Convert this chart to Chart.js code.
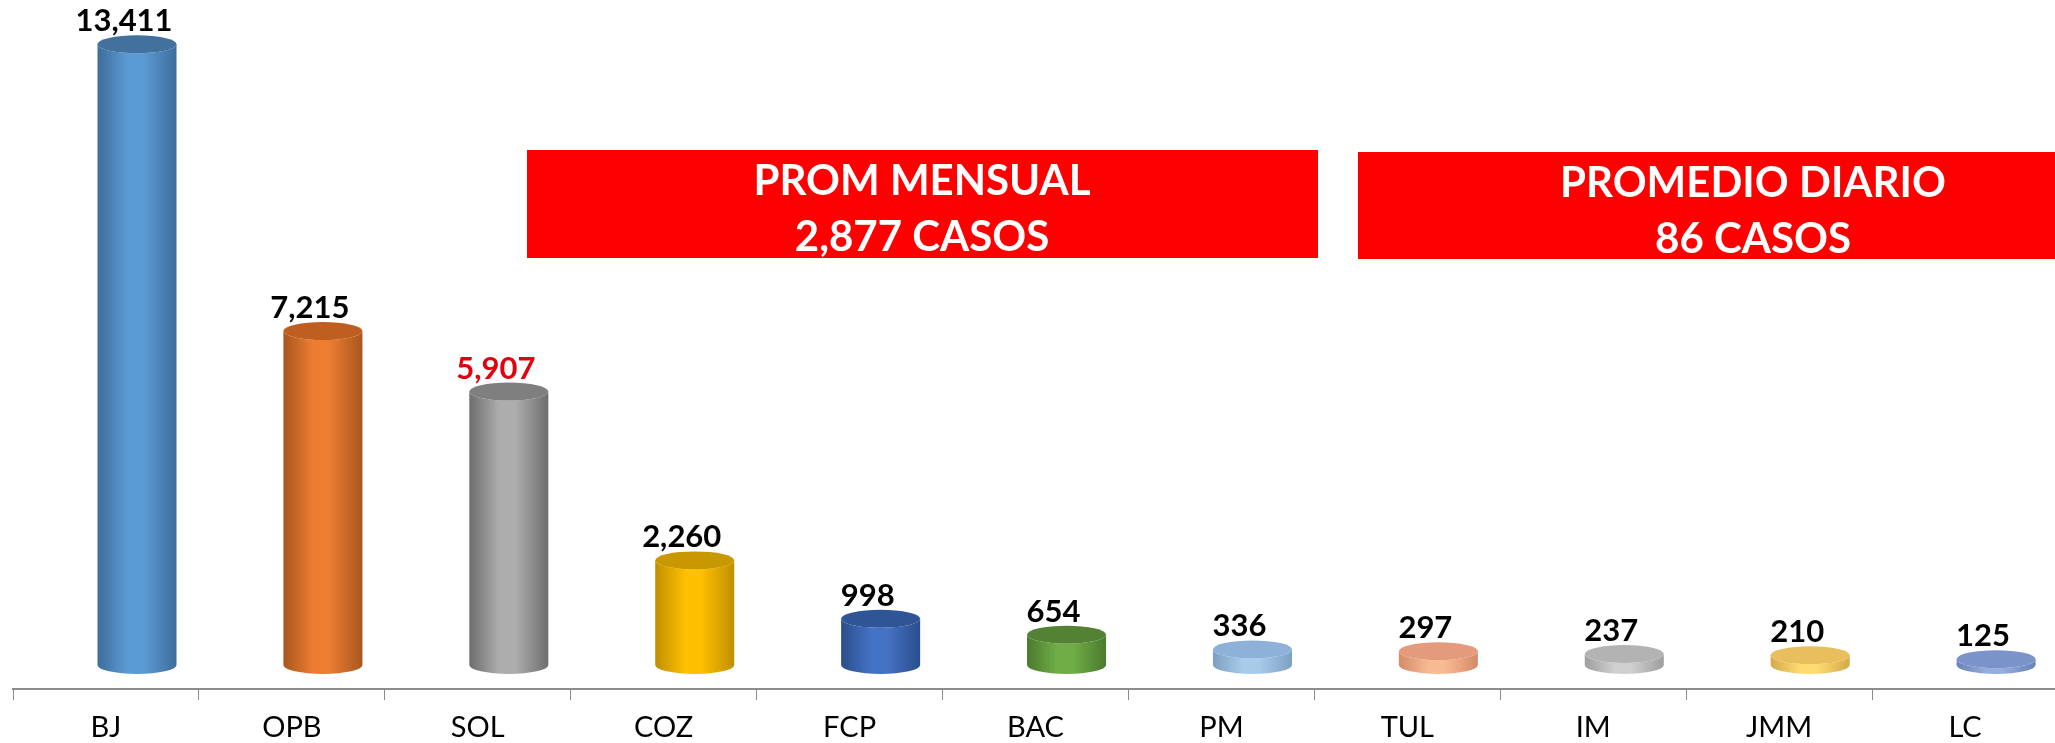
<!DOCTYPE html>
<html>
<head>
<meta charset="utf-8">
<script src="https://cdn.jsdelivr.net/npm/chart.js@4.4.1/dist/chart.umd.min.js"></script>
<style>
    html, body { margin: 0; padding: 0; background: #fff; overflow: hidden; }
    #wrap { width: 2060px; height: 743px; }
</style>
</head>
<body>
<div id="wrap"><canvas id="casosChart" width="2060" height="743"></canvas></div>
<script>
const categories = ['BJ', 'OPB', 'SOL', 'COZ', 'FCP', 'BAC', 'PM', 'TUL', 'IM', 'JMM', 'LC'];
const casos = [13411, 7215, 5907, 2260, 998, 654, 336, 297, 237, 210, 125];
const highlightIndex = 2;
const notes = [
    { lines: ['PROM MENSUAL', '2,877 CASOS'] },
    { lines: ['PROMEDIO DIARIO', '86 CASOS'] }
];

// side light / side edge / top face
const barColors = [
    { light: '#5B9BD5', edge: '#3E6D9C', top: '#41719C' },
    { light: '#ED7D31', edge: '#A9561F', top: '#BF5F1F' },
    { light: '#ADADAD', edge: '#6E6E6E', top: '#7F7F7F' },
    { light: '#FFC000', edge: '#BF8F00', top: '#C99700' },
    { light: '#4472C4', edge: '#2B4E8C', top: '#2F5597' },
    { light: '#70AD47', edge: '#4B7A2E', top: '#548235' },
    { light: '#A9CBEA', edge: '#7C9FC4', top: '#8DB1D8' },
    { light: '#F8BA92', edge: '#D48B67', top: '#E49B7C' },
    { light: '#D0D0D0', edge: '#9E9E9E', top: '#B3B3B3' },
    { light: '#FFDB70', edge: '#D4AA4A', top: '#E8BF5C' },
    { light: '#94AEDF', edge: '#6A83B8', top: '#7A93C8' }
];

const FONT = 'Lato, "Open Sans", sans-serif';
const DEPTH_X = 0.167;   // fraction of category width the 3D floor pushes the bars right
const DEPTH_Y = 24;      // floor lift in px
const RY = 9;

const formatInt = (v) => new Intl.NumberFormat('en-US').format(v);

const drawCylinder = (ctx, cx, yTop, yBase, rx, c) => {
    const grad = ctx.createLinearGradient(cx - rx, 0, cx + rx, 0);
    grad.addColorStop(0, c.edge);
    grad.addColorStop(0.38, c.light);
    grad.addColorStop(0.58, c.light);
    grad.addColorStop(1, c.edge);

    ctx.beginPath();
    ctx.moveTo(cx - rx, yTop);
    ctx.lineTo(cx - rx, yBase);
    ctx.ellipse(cx, yBase, rx, RY, 0, Math.PI, 0, true);
    ctx.lineTo(cx + rx, yTop);
    ctx.ellipse(cx, yTop, rx, RY, 0, 0, Math.PI, false);
    ctx.closePath();
    ctx.fillStyle = grad;
    ctx.fill();

    ctx.beginPath();
    ctx.ellipse(cx, yTop, rx, RY, 0, 0, Math.PI * 2);
    ctx.fillStyle = c.top;
    ctx.fill();
};

const cylinderPlugin = {
    id: 'cylinders',
    afterDatasetsDraw(chart) {
        const { ctx, scales: { x } } = chart;
        const meta = chart.getDatasetMeta(0);
        const catWidth = x.width / categories.length;
        ctx.save();
        meta.data.forEach((bar, i) => {
            const { x: bx, y: by, base, width } = bar.getProps(['x', 'y', 'base', 'width'], true);
            const cx = bx + catWidth * DEPTH_X;
            const yTop = by - DEPTH_Y;
            const yBase = base - DEPTH_Y;
            drawCylinder(ctx, cx, yTop, yBase, width / 2, barColors[i]);

            ctx.font = `bold 31px ${FONT}`;
            ctx.textAlign = 'center';
            ctx.textBaseline = 'alphabetic';
            ctx.fillStyle = i === highlightIndex ? '#E3000F' : '#000';
            ctx.fillText(formatInt(casos[i]), cx - 13, yTop - RY - 4);
        });
        ctx.restore();
    }
};

const notesPlugin = {
    id: 'notes',
    afterDraw(chart) {
        const { ctx } = chart;
        const boxes = [
            { left: 527, right: 1318, top: 150, bottom: 258, textX: 922 },
            { left: 1358, right: 2060, top: 152, bottom: 259, textX: 1753 }
        ];
        ctx.save();
        boxes.forEach((b, i) => {
            ctx.fillStyle = '#FF0000';
            ctx.fillRect(b.left, b.top, b.right - b.left, b.bottom - b.top);
            ctx.fillStyle = '#fff';
            ctx.font = `bold 42px ${FONT}`;
            ctx.textAlign = 'center';
            ctx.textBaseline = 'alphabetic';
            ctx.fillText(notes[i].lines[0], b.textX, b.top + 45);
            ctx.fillText(notes[i].lines[1], b.textX, b.top + 101);
        });
        ctx.restore();
    }
};

new Chart(document.getElementById('casosChart'), {
    type: 'bar',
    data: {
        labels: categories,
        datasets: [{
            label: 'Casos',
            data: casos,
            backgroundColor: 'rgba(0,0,0,0)',
            borderWidth: 0,
            categoryPercentage: 1,
            barPercentage: 0.425
        }]
    },
    options: {
        responsive: false,
        animation: false,
        layout: { padding: { left: 13, right: 2, top: 4, bottom: -12 } },
        plugins: {
            legend: { display: false },
            tooltip: { enabled: false }
        },
        scales: {
            x: {
                grid: {
                    offset: true,
                    drawOnChartArea: false,
                    drawTicks: true,
                    tickLength: 11,
                    color: '#8c8c8c',
                    lineWidth: 1
                },
                border: { color: '#8c8c8c', width: 2 },
                ticks: {
                    color: '#000',
                    padding: 13,
                    font: { family: FONT, size: 29, lineHeight: 1 }
                }
            },
            y: {
                display: false,
                min: 0,
                max: 14800
            }
        }
    },
    plugins: [cylinderPlugin, notesPlugin]
});
</script>
</body>
</html>
